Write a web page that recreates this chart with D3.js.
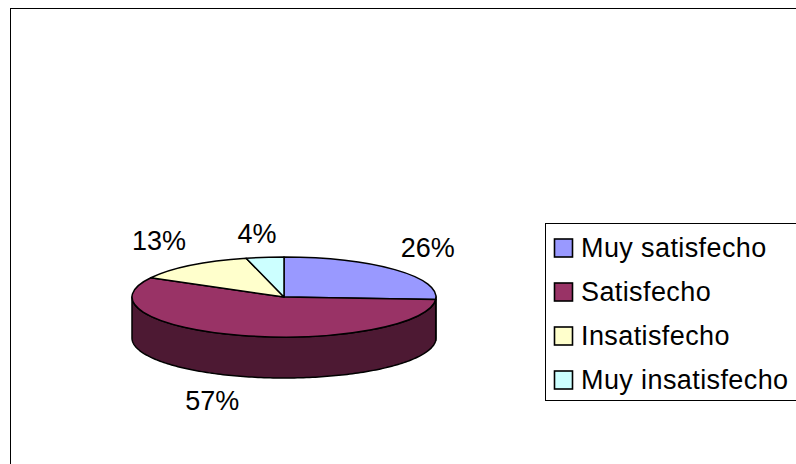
<!DOCTYPE html>
<html>
<head>
<meta charset="utf-8">
<script src="https://cdn.jsdelivr.net/npm/d3@7"></script>
<style>
  html, body { margin: 0; padding: 0; background: #fff; }
  svg { display: block; }
  text { font-family: "Liberation Sans", Arial, sans-serif; font-size: 27px; fill: #000; }
  .legend-label { letter-spacing: 0.4px; }
</style>
</head>
<body>
<div id="chart"></div>
<script>
const categories = ["Muy satisfecho", "Satisfecho", "Insatisfecho", "Muy insatisfecho"];
const values = [26, 57, 13, 4];
const colors = ["#9999ff", "#993366", "#ffffcc", "#ccffff"];
const sideColors = ["#4d4d80", "#4d1933", "#808066", "#668080"];

const width = 796, height = 464;
const cx = 284, cy = 297, rx = 152, ry = 40, depth = 41;

const svg = d3.select("#chart").append("svg")
  .attr("width", width)
  .attr("height", height);

// frame, only the top and left edges fall inside the picture
svg.append("rect")
  .attr("x", 10.5).attr("y", 8.5)
  .attr("width", width + 20).attr("height", height + 20)
  .attr("fill", "#fff").attr("stroke", "#000");

const slices = d3.pie().sort(null).value(d => d)(values);

const px = a => cx + rx * Math.sin(a);
const py = a => cy - ry * Math.cos(a);

// side wall, only the part facing the viewer (90deg to 270deg)
const front = svg.append("g");
slices.forEach((s, i) => {
  const a0 = Math.max(s.startAngle, Math.PI / 2),
        a1 = Math.min(s.endAngle, Math.PI * 1.5);
  if (a1 <= a0) return;
  const angles = d3.range(a0, a1, 0.02).concat([a1]);
  const pts = angles.map(a => [px(a), py(a)])
    .concat(angles.slice().reverse().map(a => [px(a), py(a) + depth]));
  front.append("path")
    .attr("d", d3.line()(pts) + "Z")
    .attr("fill", sideColors[i])
    .attr("stroke", "#000")
    .attr("stroke-width", 1.5)
    .attr("stroke-linejoin", "round");
});

// top of the pie, a unit pie squashed into an ellipse
const arc = d3.arc().innerRadius(0).outerRadius(1);
svg.append("g")
  .attr("transform", `translate(${cx},${cy}) scale(${rx},${ry})`)
  .selectAll("path")
  .data(slices)
  .enter().append("path")
    .attr("d", arc)
    .attr("fill", (d, i) => colors[i])
    .attr("stroke", "#000")
    .attr("stroke-width", 1.5)
    .attr("stroke-linejoin", "round")
    .attr("vector-effect", "non-scaling-stroke");

// percent labels sit on a larger ellipse round the pie
const labelNudge = [[-2, -2.5], [-16, -2.5], [-2.5, -2.5], [-2, 4]];
svg.append("g")
  .selectAll("text")
  .data(slices)
  .enter().append("text")
    .attr("text-anchor", "middle")
    .attr("dy", "0.35em")
    .attr("x", (d, i) => cx + 200 * Math.sin((d.startAngle + d.endAngle) / 2) + labelNudge[i][0])
    .attr("y", (d, i) => {
      const mid = (d.startAngle + d.endAngle) / 2;
      return cy - 68 * Math.cos(mid) + (Math.cos(mid) < 0 ? depth : 0) + labelNudge[i][1];
    })
    .text(d => d.value + "%");

// legend
const legendY = d3.scalePoint()
  .domain(categories)
  .range([248.5, 380.5]);

svg.append("rect")
  .attr("x", 545.5).attr("y", 223.5)
  .attr("width", 280).attr("height", 177)
  .attr("fill", "#fff").attr("stroke", "#000");

const legendItems = svg.append("g")
  .selectAll("g")
  .data(categories)
  .enter().append("g")
    .attr("transform", d => `translate(0, ${legendY(d)})`);

legendItems.append("rect")
  .attr("x", 554.5).attr("y", -9.5)
  .attr("width", 18).attr("height", 18)
  .attr("fill", (d, i) => colors[i])
  .attr("stroke", "#000")
  .attr("stroke-width", 1.6);

legendItems.append("text")
  .attr("class", "legend-label")
  .attr("x", 581)
  .attr("y", 8)
  .text(d => d);
</script>
</body>
</html>
